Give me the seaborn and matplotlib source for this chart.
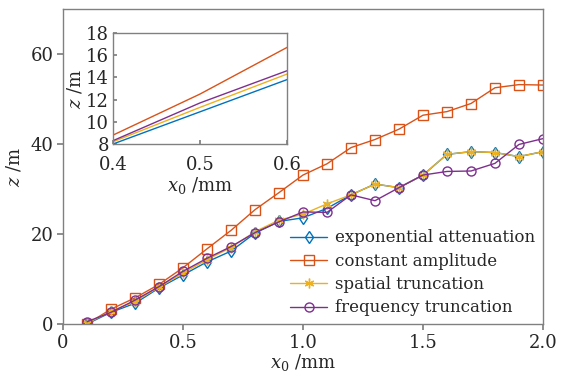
import numpy as np
import pandas as pd
import seaborn as sns
import matplotlib
matplotlib.use('Agg')
import matplotlib.pyplot as plt

x0 = [0.1, 0.2, 0.3, 0.4, 0.5, 0.6, 0.7, 0.8, 0.9, 1.0,
      1.1, 1.2, 1.3, 1.4, 1.5, 1.6, 1.7, 1.8, 1.9, 2.0]
exp_att = [0.0, 2.6, 4.6, 8.0, 10.9, 13.8, 16.2, 20.2, 22.8, 23.6,
           25.7, 28.7, 31.1, 30.3, 33.1, 37.7, 38.3, 38.1, 37.2, 38.3]
const_amp = [0.0, 3.3, 5.8, 8.8, 12.5, 16.7, 20.8, 25.4, 29.2, 33.1,
             35.6, 39.2, 41.0, 43.3, 46.4, 47.2, 49.0, 52.5, 53.2, 53.1]
spat_trunc = [0.2, 2.8, 5.0, 8.2, 11.3, 14.3, 17.0, 20.5, 23.1, 24.4,
              26.7, 28.7, 31.1, 30.3, 33.1, 37.7, 38.3, 38.1, 37.2, 38.3]
freq_trunc = [0.5, 2.6, 5.3, 8.3, 11.7, 14.6, 17.2, 20.3, 22.7, 24.9,
              24.8, 28.7, 27.4, 30.3, 33.1, 33.9, 34.0, 35.7, 39.9, 41.2]

labels = ['exponential attenuation', 'constant amplitude',
          'spatial truncation', 'frequency truncation']
series = [exp_att, const_amp, spat_trunc, freq_trunc]
colors = ['#0072BD', '#D95319', '#EDB120', '#7E2F8E']
markers = ['d', 's', (6, 2, 0), 'o']
msizes = [6, 7, 7, 6.5]

sns.set_theme(style='white')
plt.rcParams['font.family'] = ['DejaVu Serif']
plt.rcParams['mathtext.fontset'] = 'dejavuserif'

fig = plt.figure(figsize=(5.64, 3.79), dpi=100)
ax = fig.add_axes([63 / 564, 55 / 379, 480 / 564, 315 / 379])

for lab, ys, c, m, ms in zip(labels, series, colors, markers, msizes):
    df = pd.DataFrame({'x': x0, 'z': ys})
    sns.lineplot(data=df, x='x', y='z', ax=ax, color=c, marker=m,
                 markersize=ms, markerfacecolor='none',
                 markeredgecolor=c, markeredgewidth=1.0, linewidth=1.0,
                 label=lab)

ax.set_xlim(0, 2.0)
ax.set_ylim(0, 70)
ax.set_xticks([0, 0.5, 1.0, 1.5, 2.0])
ax.set_xticklabels(['0', '0.5', '1.0', '1.5', '2.0'])
ax.set_yticks([0, 20, 40, 60])
ax.tick_params(labelsize=13, length=4, direction='out', color='#808080',
               left=True, bottom=True, top=False, right=False, pad=3)
ax.set_xlabel('$x_0$ /mm', fontsize=13, labelpad=0)
ax.set_ylabel('$z$ /m', fontsize=13, labelpad=5)
for s in ax.spines.values():
    s.set_color('#808080')
    s.set_linewidth(1.0)

ax.legend(loc='lower right', frameon=False, fontsize=12, handlelength=2.2,
          handletextpad=0.5, labelspacing=0.38, borderaxespad=0.05)

ins = fig.add_axes([113 / 564, 1 - 144 / 379, 174 / 564, 111 / 379])
for lab, ys, c in zip(labels, series, colors):
    df = pd.DataFrame({'x': x0, 'z': ys})
    sns.lineplot(data=df, x='x', y='z', ax=ins, color=c, linewidth=1.0,
                 legend=False)
ins.set_xlim(0.4, 0.6)
ins.set_ylim(8, 18)
ins.set_xticks([0.4, 0.5, 0.6])
ins.set_yticks([8, 10, 12, 14, 16, 18])
ins.tick_params(axis='y', labelsize=13, length=3, direction='in', color='#808080',
                left=True, right=False, pad=3)
ins.tick_params(axis='x', labelsize=13, length=3, direction='in', color='#808080',
                bottom=True, top=False, pad=9)
ins.set_xlabel('$x_0$ /mm', fontsize=13, labelpad=0)
ins.set_ylabel('$z$ /m', fontsize=13, labelpad=1)
for s in ins.spines.values():
    s.set_color('#808080')
    s.set_linewidth(1.0)

fig.savefig('out.png', dpi=100, facecolor='white')
